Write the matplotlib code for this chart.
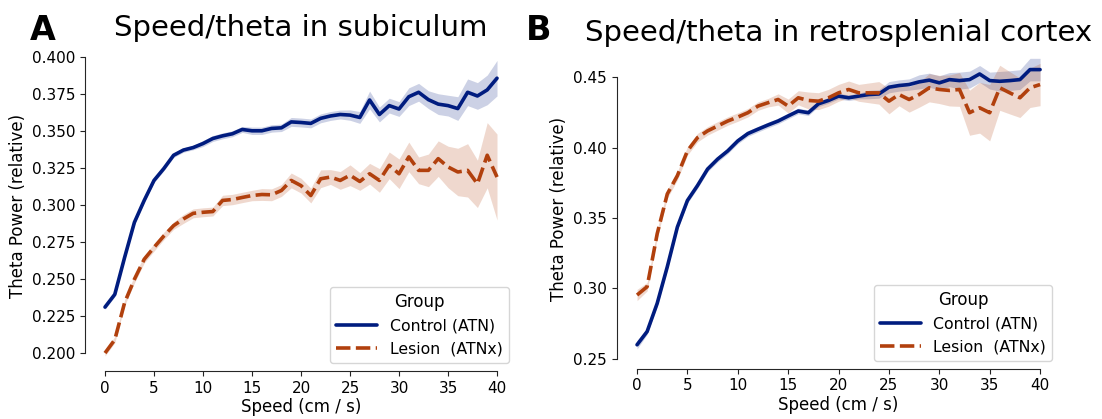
import numpy as np
import matplotlib
matplotlib.use("Agg")
import matplotlib.pyplot as plt
import seaborn as sns

speed = np.arange(41)

# subiculum: mean relative theta power and CI half-width per speed bin
sub_ctrl = [0.231, 0.2396, 0.2645, 0.2882, 0.303, 0.3165, 0.3245, 0.3335, 0.337, 0.3387,
            0.3414, 0.3448, 0.3466, 0.348, 0.3509, 0.350, 0.350, 0.3516, 0.352, 0.356,
            0.3556, 0.355, 0.3584, 0.360, 0.361, 0.3606, 0.359, 0.3708, 0.361, 0.367,
            0.3647, 0.373, 0.376, 0.371, 0.368, 0.367, 0.365, 0.376, 0.3735, 0.3776, 0.3855]
sub_ctrl_ci = [0.0015, 0.0015, 0.0015, 0.0015, 0.0015, 0.0015, 0.0015, 0.0015, 0.0015, 0.0015,
               0.002, 0.002, 0.002, 0.002, 0.002, 0.0025, 0.0025, 0.0025, 0.0025, 0.003,
               0.003, 0.003, 0.003, 0.003, 0.003, 0.0035, 0.004, 0.006, 0.005, 0.005,
               0.005, 0.006, 0.006, 0.006, 0.007, 0.007, 0.008, 0.009, 0.009, 0.010, 0.012]
sub_les = [0.200, 0.209, 0.234, 0.2498, 0.2633, 0.2713, 0.279, 0.286, 0.2905, 0.2943,
           0.295, 0.2955, 0.303, 0.3036, 0.305, 0.3063, 0.307, 0.3068, 0.3097, 0.3165,
           0.313, 0.3063, 0.3176, 0.3188, 0.3165, 0.320, 0.3158, 0.321, 0.3165, 0.3267,
           0.321, 0.3324, 0.3233, 0.3233, 0.3312, 0.3256, 0.3222, 0.3233, 0.3142, 0.3335, 0.3188]
sub_les_ci = [0.002, 0.002, 0.002, 0.0025, 0.0025, 0.0025, 0.0025, 0.0025, 0.003, 0.003,
              0.003, 0.003, 0.0035, 0.0035, 0.0035, 0.0035, 0.004, 0.004, 0.004, 0.005,
              0.005, 0.005, 0.006, 0.005, 0.006, 0.007, 0.006, 0.007, 0.008, 0.009,
              0.010, 0.010, 0.009, 0.011, 0.012, 0.014, 0.016, 0.018, 0.016, 0.022, 0.029]

# retrosplenial cortex
rsc_ctrl = [0.260, 0.2694, 0.2894, 0.3153, 0.3435, 0.3624, 0.373, 0.3847, 0.3918, 0.3976,
            0.4047, 0.4099, 0.413, 0.416, 0.4188, 0.4224, 0.4259, 0.4247, 0.431, 0.4334,
            0.4365, 0.4353, 0.4365, 0.4376, 0.438, 0.4428, 0.444, 0.4447, 0.4466, 0.4478,
            0.4459, 0.4482, 0.4475, 0.4482, 0.4522, 0.4475, 0.447, 0.4475, 0.4482, 0.4553, 0.4553]
rsc_ctrl_ci = [0.003, 0.002, 0.002, 0.002, 0.002, 0.002, 0.002, 0.002, 0.002, 0.002,
               0.002, 0.002, 0.002, 0.002, 0.002, 0.002, 0.002, 0.002, 0.002, 0.002,
               0.002, 0.002, 0.002, 0.003, 0.003, 0.004, 0.004, 0.004, 0.005, 0.005,
               0.005, 0.005, 0.006, 0.006, 0.006, 0.006, 0.007, 0.007, 0.007, 0.008, 0.008]
rsc_les = [0.2953, 0.3012, 0.3388, 0.367, 0.380, 0.3976, 0.407, 0.4118, 0.4153, 0.4188,
           0.4216, 0.4247, 0.4294, 0.4318, 0.4341, 0.4294, 0.4353, 0.4334, 0.4329, 0.4353,
           0.4388, 0.4412, 0.4388, 0.4388, 0.4388, 0.4329, 0.4376, 0.4341, 0.4376, 0.4424,
           0.4412, 0.4405, 0.4412, 0.4247, 0.4282, 0.4247, 0.4424, 0.4388, 0.4353, 0.4424, 0.4447]
rsc_les_ci = [0.004, 0.003, 0.003, 0.003, 0.003, 0.003, 0.003, 0.003, 0.003, 0.003,
              0.003, 0.003, 0.003, 0.003, 0.004, 0.005, 0.005, 0.006, 0.006, 0.006,
              0.006, 0.006, 0.006, 0.007, 0.008, 0.009, 0.008, 0.009, 0.009, 0.010,
              0.010, 0.011, 0.012, 0.016, 0.018, 0.020, 0.016, 0.015, 0.014, 0.014, 0.015]

groups = ["Control (ATN)", "Lesion  (ATNx)"]
colors = ["#001c7f", "#b1400d"]
titles = ["Speed/theta in subiculum", "Speed/theta in retrosplenial cortex"]
title_pads = [0, 5.5]

sns.set_style("ticks")
plt.rcParams["font.family"] = ["DejaVu Sans"]
plt.rcParams["text.color"] = "black"
plt.rcParams["axes.labelcolor"] = "black"
plt.rcParams["xtick.color"] = "#222222"
plt.rcParams["ytick.color"] = "#222222"
plt.rcParams["xtick.labelcolor"] = "black"
plt.rcParams["ytick.labelcolor"] = "black"

fig = plt.figure(figsize=(11.02, 4.19), dpi=100)
ax_a = fig.add_axes([0.0775, 0.115, 0.3913, 0.785])
ax_b = fig.add_axes([0.5598, 0.120, 0.4023, 0.765])

panels = [
    (ax_a, [(sub_ctrl, sub_ctrl_ci), (sub_les, sub_les_ci)],
     (0.188, 0.41), np.arange(0.200, 0.401, 0.025), "{:.3f}"),
    (ax_b, [(rsc_ctrl, rsc_ctrl_ci), (rsc_les, rsc_les_ci)],
     (0.243, 0.4705), np.arange(0.25, 0.451, 0.05), "{:.2f}"),
]

for i, (ax, series, ylim, yticks, fmt) in enumerate(panels):
    for j, (mean, ci) in enumerate(series):
        mean = np.asarray(mean)
        ci = np.asarray(ci)
        ax.fill_between(speed, mean - ci, mean + ci, color=colors[j], alpha=0.2, lw=0)
        ls = "-" if j == 0 else (0, (4, 1.5))
        ax.plot(speed, mean, color=colors[j], lw=2.6, ls=ls, label=groups[j])
    ax.set_xlim(-2, 42)
    ax.set_ylim(*ylim)
    ax.set_xticks(np.arange(0, 41, 5))
    ax.set_yticks(yticks)
    ax.set_yticklabels([fmt.format(v) for v in yticks])
    ax.tick_params(labelsize=11)
    ax.set_xlabel("Speed (cm / s)", fontsize=12, labelpad=2)
    ax.set_ylabel("Theta Power (relative)", fontsize=12)
    ax.set_title(titles[i], fontsize=21, pad=title_pads[i])
    for side in ("top", "right"):
        ax.spines[side].set_visible(False)
    ax.spines["bottom"].set_bounds(0, 40)
    ax.spines["left"].set_bounds(yticks[0], yticks[-1])
    ax.legend(title="Group", loc="lower right", fontsize=11.3, title_fontsize=12,
              handlelength=2.6)

# panel letters
fig.text(30 / 1102, 1 - 40 / 419, "A", fontsize=24, fontweight="bold", va="baseline")
fig.text(526 / 1102, 1 - 40 / 419, "B", fontsize=24, fontweight="bold", va="baseline")

fig.savefig("out.png", dpi=100)
